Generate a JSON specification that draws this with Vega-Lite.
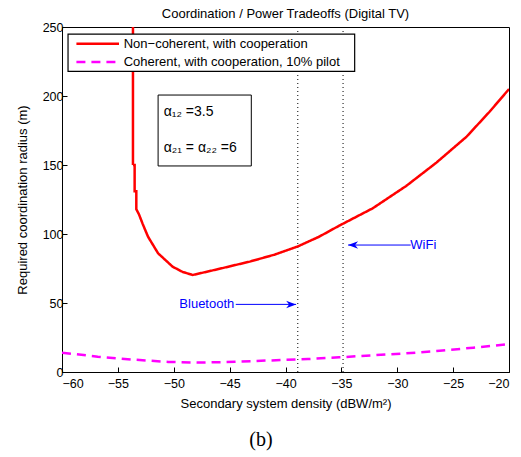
{
  "$schema": "https://vega.github.io/schema/vega-lite/v6.json",
  "width": 447,
  "height": 345,
  "autosize": {"type": "none"},
  "padding": {"left": 62, "top": 27, "right": 12, "bottom": 85},
  "title": {"text": "Coordination / Power Tradeoffs (Digital TV)", "fontSize": 13, "fontWeight": "normal", "font": "Liberation Sans", "offset": 0, "color": "black"},
  "config": {
    "view": {"stroke": "black", "strokeWidth": 1},
    "axis": {"grid": false, "domainColor": "black", "tickColor": "black", "labelColor": "black", "titleColor": "black", "labelFont": "Liberation Sans", "titleFont": "Liberation Sans", "labelFontSize": 12.5, "titleFontSize": 13, "titleFontWeight": "normal", "tickSize": -5, "domainWidth": 1}
  },
  "datasets": {
    "curves": [
      {"series": "Non−coherent, with cooperation", "i": 1, "x": -53.65, "y": 250},
      {"series": "Non−coherent, with cooperation", "i": 2, "x": -53.65, "y": 150},
      {"series": "Non−coherent, with cooperation", "i": 3, "x": -53.5, "y": 150},
      {"series": "Non−coherent, with cooperation", "i": 4, "x": -53.5, "y": 131},
      {"series": "Non−coherent, with cooperation", "i": 5, "x": -53.35, "y": 131},
      {"series": "Non−coherent, with cooperation", "i": 6, "x": -53.35, "y": 118},
      {"series": "Non−coherent, with cooperation", "i": 7, "x": -53.1, "y": 114},
      {"series": "Non−coherent, with cooperation", "i": 8, "x": -52.8, "y": 107.7},
      {"series": "Non−coherent, with cooperation", "i": 9, "x": -52.3, "y": 98},
      {"series": "Non−coherent, with cooperation", "i": 10, "x": -51.4, "y": 86},
      {"series": "Non−coherent, with cooperation", "i": 11, "x": -50.1, "y": 76.3},
      {"series": "Non−coherent, with cooperation", "i": 12, "x": -49.2, "y": 72.5},
      {"series": "Non−coherent, with cooperation", "i": 13, "x": -48.3, "y": 70.3},
      {"series": "Non−coherent, with cooperation", "i": 14, "x": -46, "y": 74.6},
      {"series": "Non−coherent, with cooperation", "i": 15, "x": -43.2, "y": 80},
      {"series": "Non−coherent, with cooperation", "i": 16, "x": -41, "y": 85},
      {"series": "Non−coherent, with cooperation", "i": 17, "x": -38.9, "y": 91},
      {"series": "Non−coherent, with cooperation", "i": 18, "x": -37, "y": 98},
      {"series": "Non−coherent, with cooperation", "i": 19, "x": -35.2, "y": 106},
      {"series": "Non−coherent, with cooperation", "i": 20, "x": -32.2, "y": 118.6},
      {"series": "Non−coherent, with cooperation", "i": 21, "x": -29.2, "y": 134.8},
      {"series": "Non−coherent, with cooperation", "i": 22, "x": -26.5, "y": 151.7},
      {"series": "Non−coherent, with cooperation", "i": 23, "x": -23.8, "y": 170.5},
      {"series": "Non−coherent, with cooperation", "i": 24, "x": -21.74, "y": 188.6},
      {"series": "Non−coherent, with cooperation", "i": 25, "x": -20, "y": 205},
      {"series": "Coherent, with cooperation, 10% pilot", "i": 1, "x": -60, "y": 14},
      {"series": "Coherent, with cooperation, 10% pilot", "i": 2, "x": -56.8, "y": 11.1},
      {"series": "Coherent, with cooperation, 10% pilot", "i": 3, "x": -53.5, "y": 8.9},
      {"series": "Coherent, with cooperation, 10% pilot", "i": 4, "x": -50.5, "y": 7.3},
      {"series": "Coherent, with cooperation, 10% pilot", "i": 5, "x": -47.5, "y": 6.8},
      {"series": "Coherent, with cooperation, 10% pilot", "i": 6, "x": -44.5, "y": 7.4},
      {"series": "Coherent, with cooperation, 10% pilot", "i": 7, "x": -41.3, "y": 8.4},
      {"series": "Coherent, with cooperation, 10% pilot", "i": 8, "x": -38, "y": 9.4},
      {"series": "Coherent, with cooperation, 10% pilot", "i": 9, "x": -35.2, "y": 10.6},
      {"series": "Coherent, with cooperation, 10% pilot", "i": 10, "x": -32.2, "y": 12.1},
      {"series": "Coherent, with cooperation, 10% pilot", "i": 11, "x": -29.2, "y": 13.5},
      {"series": "Coherent, with cooperation, 10% pilot", "i": 12, "x": -26.2, "y": 15.4},
      {"series": "Coherent, with cooperation, 10% pilot", "i": 13, "x": -23.2, "y": 17.6},
      {"series": "Coherent, with cooperation, 10% pilot", "i": 14, "x": -20, "y": 20.2}
    ],
    "legendbox": [{"x": -59.46, "x2": -33.81, "y": 244.9, "y2": 217.9}],
    "legendlines": [
      {"series": "Non−coherent, with cooperation", "i": 1, "x": -58.71, "y": 237.9},
      {"series": "Non−coherent, with cooperation", "i": 2, "x": -54.9, "y": 237.9},
      {"series": "Coherent, with cooperation, 10% pilot", "i": 1, "x": -58.71, "y": 224.6},
      {"series": "Coherent, with cooperation, 10% pilot", "i": 2, "x": -54.9, "y": 224.6}
    ],
    "legendtext": [
      {"series": "Non−coherent, with cooperation", "x": -54.48, "y": 237.9},
      {"series": "Coherent, with cooperation, 10% pilot", "x": -54.48, "y": 224.6}
    ],
    "vlines": [{"x": -38.9}, {"x": -34.85}],
    "arrows": [
      {"label": "Bluetooth", "x": -44.45, "tip": -39.05, "y": 49, "dir": "right"},
      {"label": "WiFi", "x": -28.8, "tip": -34.4, "y": 92, "dir": "left"}
    ],
    "techtext": [
      {"label": "Bluetooth", "x": -49.5, "y": 49},
      {"label": "WiFi", "x": -28.83, "y": 92}
    ],
    "box": [{"x": -51.4, "x2": -43.06, "y": 200.7, "y2": 149.3}],
    "params": [
      {"label": "α₁₂ =3.5", "x": -50.9, "y": 188.5},
      {"label": "α₂₁ = α₂₂ =6", "x": -50.9, "y": 162}
    ],
    "caption": [{"label": "(b)", "x": -42.2, "y": -49}]
  },
  "layer": [
    {
      "data": {"name": "vlines"},
      "mark": {"type": "rule", "color": "black", "strokeDash": [1, 3], "strokeWidth": 1},
      "encoding": {
        "x": {"field": "x", "type": "quantitative", "scale": {"domain": [-60, -20], "nice": false, "zero": false},
              "axis": {"values": [-60, -55, -50, -45, -40, -35, -30, -25, -20], "title": "Secondary system density (dBW/m²)", "labelPadding": 10, "titlePadding": 8}}
      }
    },
    {
      "data": {"name": "curves"},
      "mark": {"type": "line", "strokeWidth": 2.5, "clip": true},
      "encoding": {
        "x": {"field": "x", "type": "quantitative"},
        "y": {"field": "y", "type": "quantitative", "scale": {"domain": [0, 250], "nice": false, "zero": false},
              "axis": {"values": [0, 50, 100, 150, 200, 250], "title": "Required coordination radius (m)", "labelPadding": 4, "titlePadding": 13}},
        "color": {"field": "series", "type": "nominal",
                  "scale": {"domain": ["Non−coherent, with cooperation", "Coherent, with cooperation, 10% pilot"], "range": ["#ff0000", "#ff00ff"]},
                  "legend": null},
        "strokeDash": {"field": "series", "type": "nominal",
                  "scale": {"domain": ["Non−coherent, with cooperation", "Coherent, with cooperation, 10% pilot"], "range": [[1, 0], [9, 6]]},
                  "legend": null},
        "order": {"field": "i", "type": "quantitative"}
      }
    },
    {
      "data": {"name": "box"},
      "mark": {"type": "rect", "fill": "white", "stroke": "black", "strokeWidth": 1},
      "encoding": {
        "x": {"field": "x", "type": "quantitative"},
        "x2": {"field": "x2"},
        "y": {"field": "y", "type": "quantitative"},
        "y2": {"field": "y2"}
      }
    },
    {
      "data": {"name": "params"},
      "mark": {"type": "text", "align": "left", "baseline": "middle", "font": "Liberation Sans", "fontSize": 14, "color": "black"},
      "encoding": {
        "x": {"field": "x", "type": "quantitative"},
        "y": {"field": "y", "type": "quantitative"},
        "text": {"field": "label"}
      }
    },
    {
      "data": {"name": "legendbox"},
      "mark": {"type": "rect", "fill": "white", "stroke": "black", "strokeWidth": 1.2},
      "encoding": {
        "x": {"field": "x", "type": "quantitative"},
        "x2": {"field": "x2"},
        "y": {"field": "y", "type": "quantitative"},
        "y2": {"field": "y2"}
      }
    },
    {
      "data": {"name": "legendlines"},
      "mark": {"type": "line", "strokeWidth": 2.5},
      "encoding": {
        "x": {"field": "x", "type": "quantitative"},
        "y": {"field": "y", "type": "quantitative"},
        "color": {"field": "series", "type": "nominal", "legend": null},
        "strokeDash": {"field": "series", "type": "nominal", "legend": null},
        "order": {"field": "i", "type": "quantitative"}
      }
    },
    {
      "data": {"name": "legendtext"},
      "mark": {"type": "text", "align": "left", "baseline": "middle", "font": "Liberation Sans", "fontSize": 13, "color": "black"},
      "encoding": {
        "x": {"field": "x", "type": "quantitative"},
        "y": {"field": "y", "type": "quantitative"},
        "text": {"field": "series"}
      }
    },
    {
      "data": {"name": "arrows"},
      "mark": {"type": "rule", "color": "#0000ff", "strokeWidth": 1},
      "encoding": {
        "x": {"field": "x", "type": "quantitative"},
        "x2": {"field": "tip"},
        "y": {"field": "y", "type": "quantitative"}
      }
    },
    {
      "data": {"name": "arrows"},
      "transform": [{"filter": "datum.dir === 'right'"}],
      "mark": {"type": "point", "shape": "M0,0 L-2,-0.75 L-1.4,0 L-2,0.75 Z", "size": 100, "filled": true, "color": "#0000ff", "opacity": 1},
      "encoding": {
        "x": {"field": "tip", "type": "quantitative"},
        "y": {"field": "y", "type": "quantitative"}
      }
    },
    {
      "data": {"name": "arrows"},
      "transform": [{"filter": "datum.dir === 'left'"}],
      "mark": {"type": "point", "shape": "M0,0 L2,-0.75 L1.4,0 L2,0.75 Z", "size": 100, "filled": true, "color": "#0000ff", "opacity": 1},
      "encoding": {
        "x": {"field": "tip", "type": "quantitative"},
        "y": {"field": "y", "type": "quantitative"}
      }
    },
    {
      "data": {"name": "techtext"},
      "mark": {"type": "text", "align": "left", "baseline": "middle", "font": "Liberation Sans", "fontSize": 13, "color": "#0000ff"},
      "encoding": {
        "x": {"field": "x", "type": "quantitative"},
        "y": {"field": "y", "type": "quantitative"},
        "text": {"field": "label"}
      }
    },
    {
      "data": {"name": "caption"},
      "mark": {"type": "text", "align": "center", "baseline": "middle", "font": "Liberation Serif", "fontSize": 20, "color": "black"},
      "encoding": {
        "x": {"field": "x", "type": "quantitative"},
        "y": {"field": "y", "type": "quantitative"},
        "text": {"field": "label"}
      }
    }
  ]
}
